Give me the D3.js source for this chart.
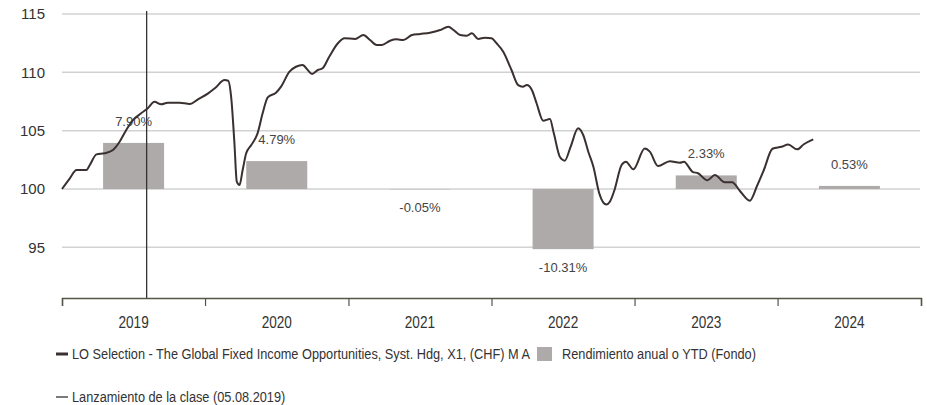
<!DOCTYPE html>
<html>
<head>
<meta charset="utf-8">
<script src="https://cdn.jsdelivr.net/npm/d3@7"></script>
<style>
  body { margin: 0; background: #fff; }
  svg { display: block; font-family: "Liberation Sans", Arial, sans-serif; }
</style>
</head>
<body>
<svg id="svg"></svg>
<script>
const parse = d3.timeParse("%Y-%m-%d");

// fund index (base 100)
const navDates = [
  "2019-01-01","2019-01-21","2019-02-07","2019-03-04","2019-03-13","2019-03-30","2019-04-20","2019-05-11",
  "2019-05-28","2019-06-14","2019-07-01","2019-07-22","2019-08-08","2019-08-25","2019-09-11","2019-09-28",
  "2019-10-28","2019-11-23","2019-12-14","2020-01-09","2020-01-26","2020-02-20","2020-02-29","2020-03-08",
  "2020-03-16","2020-03-22","2020-03-29","2020-04-06","2020-04-15","2020-04-28","2020-05-14","2020-05-27",
  "2020-06-09","2020-06-30","2020-07-13","2020-08-03","2020-08-20","2020-09-06","2020-09-19","2020-09-30",
  "2020-10-15","2020-10-27","2020-11-13","2020-12-05","2020-12-22","2021-01-18","2021-02-08","2021-02-25",
  "2021-03-14","2021-03-27","2021-04-17","2021-05-04","2021-05-21","2021-06-12","2021-07-03","2021-07-28",
  "2021-08-23","2021-09-13","2021-09-26","2021-10-13","2021-10-30","2021-11-12","2021-11-28","2021-12-15",
  "2022-01-01","2022-01-14","2022-01-31","2022-02-21","2022-03-10","2022-03-22","2022-04-01","2022-04-14",
  "2022-04-26","2022-05-13","2022-05-30","2022-06-09","2022-06-25","2022-07-07","2022-07-22","2022-08-10",
  "2022-08-23","2022-09-05","2022-09-18","2022-10-03","2022-10-21","2022-10-30","2022-11-10","2022-11-29",
  "2022-12-10","2022-12-29","2023-01-27","2023-02-09","2023-03-02","2023-04-01","2023-04-27","2023-05-07",
  "2023-05-29","2023-06-12","2023-07-06","2023-07-25","2023-08-19","2023-09-07","2023-09-27","2023-10-22",
  "2023-11-10","2023-11-27","2023-12-19","2024-01-11","2024-01-28","2024-02-20","2024-03-08","2024-04-01"
];
const navValues = [
  100.0, 100.92, 101.63, 101.63, 102.06, 102.97, 103.06, 103.34,
  104.05, 105.06, 105.91, 106.49, 106.92, 107.48, 107.26, 107.40,
  107.40, 107.29, 107.69, 108.20, 108.63, 109.34, 109.28, 107.77,
  103.92, 100.63, 100.34, 101.63, 103.06, 103.77, 104.77, 106.49,
  107.86, 108.25, 108.77, 110.05, 110.48, 110.63, 110.20, 109.86,
  110.20, 110.35, 111.34, 112.49, 112.92, 112.86, 113.20, 112.77,
  112.34, 112.34, 112.71, 112.83, 112.77, 113.20, 113.29, 113.40,
  113.63, 113.91, 113.63, 113.20, 113.14, 113.35, 112.86, 112.97,
  112.92, 112.49, 111.77, 110.20, 108.91, 108.77, 108.91, 108.49,
  107.35, 105.85, 106.00, 104.77, 102.72, 102.43, 103.63, 105.20,
  104.63, 103.20, 101.91, 99.63, 98.67, 98.91, 99.83, 102.06,
  102.34, 101.69, 103.47, 103.20, 101.97, 102.38, 102.25, 102.34,
  101.48, 101.35, 100.75, 101.20, 100.58, 100.58, 99.83, 99.00,
  100.30, 101.63, 103.45, 103.62, 103.81, 103.40, 103.84, 104.26
];

// annual / YTD returns (%)
const years = ["2019", "2020", "2021", "2022", "2023", "2024"];
const yearReturns = [7.90, 4.79, -0.05, -10.31, 2.33, 0.53];

const yTicks = [95, 100, 105, 110, 115];
const launchDate = "2019-08-05";

const seriesName = "LO Selection - The Global Fixed Income Opportunities, Syst. Hdg, X1, (CHF) M A";
const barName = "Rendimiento anual o YTD (Fondo)";
const launchName = "Lanzamiento de la clase (05.08.2019)";

const width = 927, height = 405;
const margin = { top: 14, right: 6, bottom: 107, left: 62 };
const lineColor = "#3a3030";
const barColor = "#aeaaa9";
// no condensed face installed, squeeze horizontally
const narrowYear = 0.8;
const narrowLegend = 0.88;

const line = navDates.map((d, i) => ({ date: parse(d), value: navValues[i] }));

const svg = d3.select("#svg")
    .attr("width", width)
    .attr("height", height)
    .attr("viewBox", [0, 0, width, height]);

const x = d3.scaleTime()
    .domain([parse("2019-01-01"), parse("2025-01-01")])
    .range([margin.left, width - margin.right]);

const xBand = d3.scaleBand()
    .domain(years)
    .range(x.range())
    .paddingInner(0.574)
    .paddingOuter(0.287);

const yMin = 90.66, yMax = 115;
const y = d3.scaleLinear()
    .domain([yMin, yMax])
    .range([height - margin.bottom, margin.top]);

// returns are on a secondary scale (2% per index point)
const yPct = d3.scaleLinear()
    .domain([(yMin - 100) * 2, (yMax - 100) * 2])
    .range(y.range());

// grid
svg.append("g")
    .selectAll("line")
    .data(yTicks)
    .join("line")
        .attr("x1", margin.left)
        .attr("x2", width - margin.right - 1)
        .attr("y1", d => y(d))
        .attr("y2", d => y(d))
        .attr("stroke", "#d2d2d2")
        .attr("stroke-width", 1.5);

svg.append("g")
    .attr("font-size", 15)
    .attr("fill", "#333")
    .attr("text-anchor", "end")
    .selectAll("text")
    .data(yTicks)
    .join("text")
        .attr("x", 45)
        .attr("y", d => y(d))
        .attr("dy", "0.35em")
        .text(d => d);

// bars
svg.append("g")
    .selectAll("rect")
    .data(years)
    .join("rect")
        .attr("x", d => xBand(d))
        .attr("width", xBand.bandwidth())
        .attr("y", (d, i) => yPct(Math.max(0, yearReturns[i])))
        .attr("height", (d, i) => Math.abs(yPct(yearReturns[i]) - yPct(0)))
        .attr("fill", barColor);

svg.append("g")
    .attr("font-size", 13)
    .attr("fill", "#444")
    .attr("text-anchor", "middle")
    .selectAll("text")
    .data(years)
    .join("text")
        .attr("x", d => xBand(d) + xBand.bandwidth() / 2)
        .attr("y", (d, i) => yearReturns[i] >= 0 ? yPct(yearReturns[i]) - 17 : yPct(yearReturns[i]) + 23)
        .text((d, i) => yearReturns[i].toFixed(2) + "%");

// launch marker
svg.append("line")
    .attr("x1", x(parse(launchDate)))
    .attr("x2", x(parse(launchDate)))
    .attr("y1", 11)
    .attr("y2", y(yMin))
    .attr("stroke", "#333")
    .attr("stroke-width", 1.3);

// fund line
svg.append("path")
    .datum(line)
    .attr("fill", "none")
    .attr("stroke", lineColor)
    .attr("stroke-width", 2)
    .attr("stroke-linejoin", "round")
    .attr("d", d3.line().x(d => x(d.date)).y(d => y(d.value)).curve(d3.curveMonotoneX));

// x axis: ticks on year boundaries, labels in the middle
const xAxis = svg.append("g")
    .attr("transform", `translate(0,${y(yMin)})`)
    .call(d3.axisBottom(x).ticks(d3.timeYear.every(1)).tickSize(8).tickFormat(""));
xAxis.select(".domain").attr("stroke", "#55554a").attr("stroke-width", 1.5);
xAxis.selectAll(".tick line").attr("stroke", "#55554a").attr("stroke-width", 1.2);

svg.append("g")
    .attr("font-size", 17)
    .attr("fill", "#333")
    .attr("text-anchor", "middle")
    .selectAll("text")
    .data(years)
    .join("text")
        .attr("transform", d => `translate(${xBand(d) + xBand.bandwidth() / 2},${y(yMin) + 24}) scale(${narrowYear},1)`)
        .attr("dy", "0.35em")
        .text(d => d);

// legend
const legend = svg.append("g")
    .attr("font-size", 14.5)
    .attr("fill", "#333");

function legendText(x0, y0, str) {
    const t = legend.append("text")
        .attr("transform", `translate(${x0},${y0}) scale(${narrowLegend},1)`)
        .attr("dy", "0.35em")
        .text(str);
    return x0 + t.node().getComputedTextLength() * narrowLegend;
}

legend.append("line")
    .attr("x1", 56).attr("x2", 68)
    .attr("y1", 354).attr("y2", 354)
    .attr("stroke", lineColor)
    .attr("stroke-width", 3);
const t1End = legendText(72, 354, seriesName);
legend.append("rect")
    .attr("x", t1End + 7).attr("y", 347)
    .attr("width", 15).attr("height", 14)
    .attr("fill", barColor);
legendText(t1End + 32, 354, barName);

legend.append("line")
    .attr("x1", 56).attr("x2", 68)
    .attr("y1", 397).attr("y2", 397)
    .attr("stroke", "#333")
    .attr("stroke-width", 1.3);
legendText(72, 397, launchName);
</script>
</body>
</html>
